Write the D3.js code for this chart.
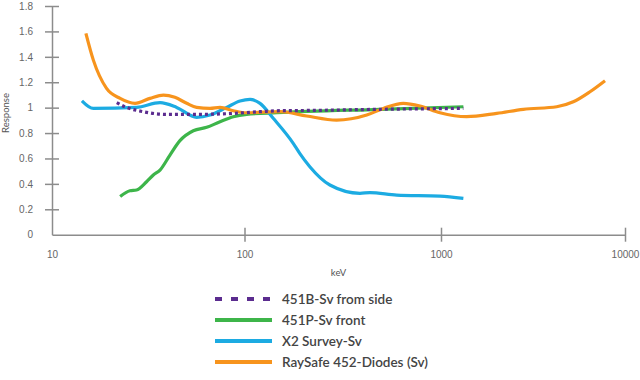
<!DOCTYPE html>
<html>
<head>
<meta charset="utf-8">
<script src="https://cdn.jsdelivr.net/npm/d3@7"></script>
<style>
  body { margin: 0; background: #fff; }
  svg { font-family: Lato, "Open Sans", sans-serif; }
</style>
</head>
<body>
<svg id="chart"></svg>
<script>
// series (keV, response)
const seriesNames = ['451B-Sv from side', '451P-Sv front', 'X2 Survey-Sv', 'RaySafe 452-Diodes (Sv)'];
const seriesColors = ['#5b2c8f', '#3db54a', '#1cabe2', '#f7941d'];

const sideKev = [21.7, 24.4, 29.8, 39.4, 54.2, 80.8, 120, 152, 215, 490, 1323];
const sideResp = [1.039, 1.002, 0.968, 0.947, 0.947, 0.952, 0.968, 0.976, 0.978, 0.987, 0.994];

const frontKev = [22.6, 25.4, 27.5, 31.0, 33.6, 36.4, 41.0, 46.2, 54.2, 63.6, 74.6, 87.5, 102.6, 146, 490, 1323];
const frontResp = [0.30, 0.346, 0.352, 0.417, 0.47, 0.509, 0.627, 0.74, 0.818, 0.845, 0.889, 0.928, 0.947, 0.96, 0.987, 1.007];

const x2Kev = [14.3, 16.4, 27.5, 36.4, 44.4, 56.4, 66.2, 80.8, 94.8, 106.7, 120, 140, 177, 191, 215, 272, 387, 435, 595, 988, 1323];
const x2Resp = [1.054, 0.994, 1.002, 1.039, 1.002, 0.924, 0.942, 1.002, 1.052, 1.065, 1.034, 0.916, 0.719, 0.64, 0.535, 0.391, 0.326, 0.331, 0.312, 0.304, 0.286];

const diodeKev = [15.0, 16.4, 19.2, 22.6, 27.0, 32.3, 37.9, 43.5, 50.1, 56.4, 66.2, 74.6, 87.5, 102.6, 152, 207, 294, 419, 509, 643, 782, 988, 1379, 2009, 2802, 4255, 5238, 6452, 7788];
const diodeResp = [1.585, 1.374, 1.152, 1.073, 1.034, 1.073, 1.099, 1.081, 1.034, 1.002, 0.994, 1.002, 0.976, 0.96, 0.968, 0.934, 0.902, 0.942, 0.994, 1.034, 1.013, 0.96, 0.929, 0.955, 0.987, 1.007, 1.046, 1.125, 1.212];

const yTicks = [0, 0.2, 0.4, 0.6, 0.8, 1, 1.2, 1.4, 1.6, 1.8];
const xTicks = [10, 100, 1000, 10000];

const width = 640, height = 380;
const margin = {top: 6, right: 15, bottom: 145, left: 52};

const svg = d3.select('#chart')
    .attr('width', width)
    .attr('height', height);

const innerW = width - margin.left - margin.right;
const innerH = height - margin.top - margin.bottom;

const chart = svg.append('g')
    .attr('transform', `translate(${margin.left}, ${margin.top})`);

// decades in the original are not evenly spaced
const xscale = d3.scaleLog().domain(xTicks).range([0, 192.5, 389, 573]);
const yscale = d3.scaleLinear().domain([0, 1.8]).range([innerH - 0.3, 0]);

//軸
const yaxis = d3.axisLeft(yscale)
    .tickValues(yTicks)
    .tickFormat(d => d)
    .tickSizeInner(7).tickSizeOuter(0).tickPadding(12);

const xaxis = d3.axisBottom(xscale)
    .tickValues(xTicks)
    .tickFormat(d => d)
    .tickSizeInner(7).tickSizeOuter(0).tickPadding(9);

const yg = chart.append('g').call(yaxis);
yg.selectAll('.tick line').attr('x1', 7).attr('x2', -7);
yg.selectAll('.tick').filter(d => d === 0).select('line').remove();

const xg = chart.append('g')
    .attr('transform', `translate(0, ${innerH - 0.3})`)
    .call(xaxis);
xg.selectAll('.tick line').attr('y1', -7).attr('y2', 7);
xg.selectAll('.tick').filter(d => d === 10).select('line').remove();

[yg, xg].forEach(g => {
    g.select('.domain').attr('stroke', '#8c8c8c').attr('stroke-width', 1.5);
    g.selectAll('.tick line').attr('stroke', '#8c8c8c').attr('stroke-width', 1.5);
    g.selectAll('.tick text').attr('fill', '#666').style('font-size', '10px');
});

svg.append('text')
    .attr('x', margin.left + innerW / 2)
    .attr('y', 276)
    .attr('text-anchor', 'middle')
    .attr('fill', '#555')
    .style('font-size', '9.5px')
    .text('keV');

svg.append('text')
    .attr('transform', 'translate(9, 113) rotate(-90)')
    .attr('text-anchor', 'middle')
    .attr('fill', '#555')
    .style('font-size', '9.5px')
    .text('Response');

//線
const line = d3.line()
    .x(d => xscale(d[0]))
    .y(d => yscale(d[1]))
    .curve(d3.curveMonotoneX);

const series = [
    {name: seriesNames[1], color: seriesColors[1], kev: frontKev, resp: frontResp, dash: null},
    {name: seriesNames[2], color: seriesColors[2], kev: x2Kev, resp: x2Resp, dash: null},
    {name: seriesNames[3], color: seriesColors[3], kev: diodeKev, resp: diodeResp, dash: null},
    {name: seriesNames[0], color: seriesColors[0], kev: sideKev, resp: sideResp, dash: '3,3'}
];

chart.selectAll('.series')
    .data(series)
    .join('path')
    .attr('class', 'series')
    .attr('fill', 'none')
    .attr('stroke', d => d.color)
    .attr('stroke-width', 3.2)
    .attr('stroke-dasharray', d => d.dash)
    .attr('stroke-linejoin', 'round')
    .attr('d', d => line(d.kev.map((k, i) => [k, d.resp[i]])));

//凡例
const legend = svg.append('g')
    .attr('transform', 'translate(215, 299)');

const items = legend.selectAll('g')
    .data(seriesNames)
    .join('g')
    .attr('transform', (d, i) => `translate(0, ${i * 21})`);

items.append('line')
    .attr('x1', 0).attr('x2', 57)
    .attr('stroke', (d, i) => seriesColors[i])
    .attr('stroke-width', 4)
    .attr('stroke-dasharray', (d, i) => i === 0 ? '7,9' : null);

items.append('text')
    .attr('x', 67)
    .attr('dy', '0.35em')
    .attr('fill', '#444')
    .style('font-size', '13.5px')
    .style('font-weight', 600)
    .text(d => d);
</script>
</body>
</html>
